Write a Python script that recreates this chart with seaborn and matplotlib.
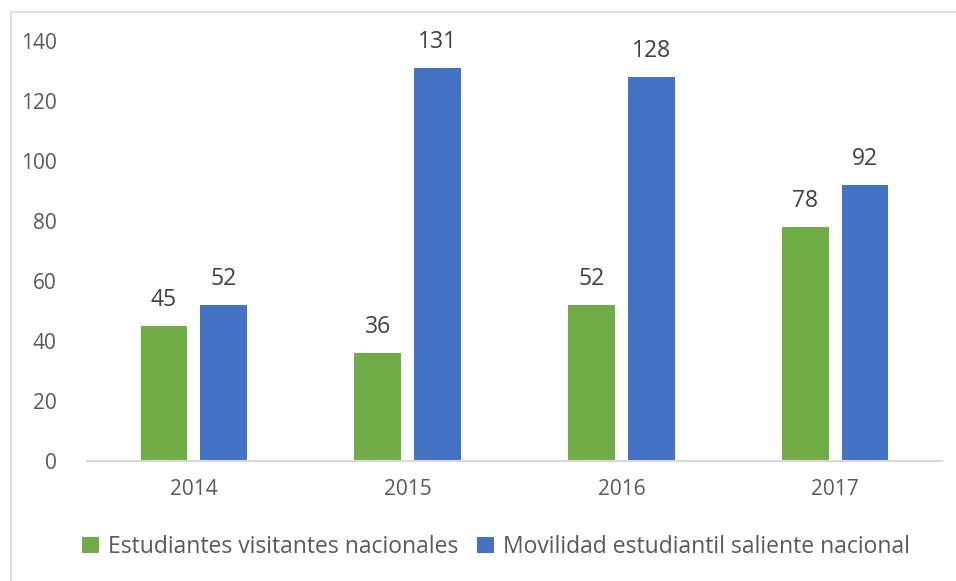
import pandas as pd
import seaborn as sns
from matplotlib import pyplot as plt
from matplotlib.patches import Rectangle

sns.set_style("white")
plt.rcParams['font.family'] = ['Open Sans', 'DejaVu Sans']

years = ['2014', '2015', '2016', '2017']
visitantes = [45, 36, 52, 78]
saliente = [52, 131, 128, 92]
series_names = ['Estudiantes visitantes nacionales',
                'Movilidad estudiantil saliente nacional']
colors = ['#70AD47', '#4472C4']


def main():
    df = pd.DataFrame({
        'year': years * 2,
        'value': visitantes + saliente,
        'serie': [series_names[0]] * 4 + [series_names[1]] * 4,
    })

    fig = plt.figure(figsize=(9.56, 5.81), dpi=100)
    ax = fig.add_axes([87 / 956, 1 - 461 / 581, (942 - 87) / 956, (461 - 41) / 581])

    sns.barplot(data=df, x='year', y='value', hue='serie', palette=colors,
                saturation=1, width=0.56, gap=0.22, linewidth=0,
                ax=ax, legend=True)

    for cont in ax.containers:
        ax.bar_label(cont, padding=10, fontsize=16.5, color='#404040')

    ax.set_ylim(0, 140)
    ax.set_yticks(range(0, 141, 20))
    ax.set_xlabel('')
    ax.set_ylabel('')
    ax.tick_params(axis='both', length=0, labelsize=15, colors='#595959')
    ax.tick_params(axis='x', pad=13)
    ax.tick_params(axis='y', pad=22)
    for s in ['top', 'right', 'left']:
        ax.spines[s].set_visible(False)
    ax.spines['bottom'].set_color('#D9D9D9')
    ax.spines['bottom'].set_linewidth(1.5)

    handles, labels = ax.get_legend_handles_labels()
    ax.get_legend().remove()
    fig.legend(handles, labels, loc='center', bbox_to_anchor=(496 / 956, 1 - 547 / 581),
               ncol=2, frameon=False, fontsize=16.5, labelcolor='#595959',
               handlelength=0.75, handleheight=0.75, handletextpad=0.4, columnspacing=0.8)

    fig.patches.append(Rectangle((11 / 956, -0.1), 1.2, 1 - 12 / 581 + 0.1,
                                 transform=fig.transFigure, fill=False,
                                 edgecolor='#D9D9D9', linewidth=1.2))

    fig.savefig('out.png', dpi=100)


if __name__ == '__main__':
    main()
